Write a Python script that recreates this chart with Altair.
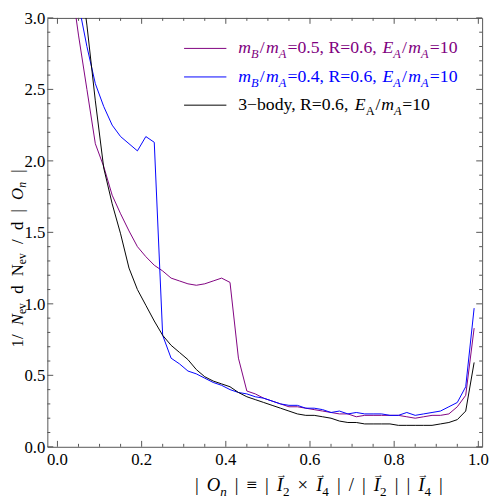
import altair as alt
import pandas as pd

# ---------------- data ----------------
bin_centers = [0.01, 0.03, 0.05, 0.07, 0.09, 0.11, 0.13, 0.15, 0.17, 0.19,
               0.21, 0.23, 0.25, 0.27, 0.29, 0.31, 0.33, 0.35, 0.37, 0.39,
               0.41, 0.43, 0.45, 0.47, 0.49, 0.51, 0.53, 0.55, 0.57, 0.59,
               0.61, 0.63, 0.65, 0.67, 0.69, 0.71, 0.73, 0.75, 0.77, 0.79,
               0.81, 0.83, 0.85, 0.87, 0.89, 0.91, 0.93, 0.95, 0.97, 0.99]

purple_vals = [4.30, 3.30, 2.88, 2.50, 2.12, 1.96, 1.76, 1.63, 1.51, 1.40,
               1.33, 1.27, 1.23, 1.18, 1.16, 1.14, 1.13, 1.14, 1.16, 1.18,
               1.15, 0.62, 0.39, 0.37, 0.34, 0.32, 0.30, 0.28, 0.28, 0.27,
               0.26, 0.25, 0.24, 0.23, 0.23, 0.21, 0.22, 0.22, 0.22, 0.22,
               0.22, 0.21, 0.20, 0.21, 0.22, 0.22, 0.23, 0.28, 0.36, 0.83]

blue_vals = [4.60, 3.60, 3.10, 2.80, 2.54, 2.38, 2.25, 2.17, 2.12, 2.07,
             2.17, 2.13, 0.78, 0.62, 0.58, 0.53, 0.51, 0.48, 0.45, 0.43,
             0.40, 0.38, 0.37, 0.35, 0.34, 0.32, 0.30, 0.29, 0.29, 0.27,
             0.27, 0.26, 0.24, 0.25, 0.23, 0.24, 0.23, 0.23, 0.23, 0.22,
             0.22, 0.24, 0.22, 0.23, 0.24, 0.25, 0.28, 0.31, 0.42, 0.97]

black_vals = [5.00, 4.00, 3.40, 2.95, 2.42, 1.95, 1.70, 1.49, 1.25, 1.10,
              0.99, 0.88, 0.78, 0.71, 0.66, 0.61, 0.54, 0.49, 0.46, 0.44,
              0.42, 0.38, 0.35, 0.33, 0.31, 0.29, 0.27, 0.25, 0.23, 0.22,
              0.22, 0.21, 0.20, 0.18, 0.17, 0.17, 0.16, 0.16, 0.16, 0.16,
              0.15, 0.15, 0.15, 0.15, 0.15, 0.16, 0.17, 0.19, 0.25, 0.59]

x_major = [0.0, 0.2, 0.4, 0.6, 0.8, 1.0]
x_major_labels = ["0.0", "0.2", "0.4", "0.6", "0.8", "1.0"]
x_minor = [0.05, 0.1, 0.15, 0.25, 0.3, 0.35, 0.45, 0.5, 0.55,
           0.65, 0.7, 0.75, 0.85, 0.9, 0.95]
y_major = [0.0, 0.5, 1.0, 1.5, 2.0, 2.5, 3.0]
y_major_labels = ["0.0", "0.5", "1.0", "1.5", "2.0", "2.5", "3.0"]
y_minor = [0.1, 0.2, 0.3, 0.4, 0.6, 0.7, 0.8, 0.9, 1.1, 1.2, 1.3, 1.4,
           1.6, 1.7, 1.8, 1.9, 2.1, 2.2, 2.3, 2.4, 2.6, 2.7, 2.8, 2.9]

legend_labels = ["0.5", "0.4"]

# ---------------- styling ----------------
TOP = 6
W, H = 442, 436
X_DOMAIN = [-0.024, 1.009]
Y_DOMAIN = [0.0, 3.0]
PURPLE = "#800080"
BLUE = "#0000ff"
BLACK = "#000000"
FRAME = "#555555"
FONT = "Liberation Serif"

xs = alt.Scale(domain=X_DOMAIN, nice=False, zero=False)
ys = alt.Scale(domain=Y_DOMAIN, nice=False, zero=False)


def series_layer(vals, color):
    d = pd.DataFrame({"x": bin_centers, "y": vals})
    return alt.Chart(d).mark_line(color=color, strokeWidth=1, clip=True).encode(
        x=alt.X("x:Q", scale=xs, axis=None),
        y=alt.Y("y:Q", scale=ys, axis=None),
    )


def xtick_layer(vals, L, top):
    d = pd.DataFrame({"x": vals})
    return alt.Chart(d).mark_rule(color=FRAME, strokeWidth=1).encode(
        x=alt.X("x:Q", scale=xs, axis=None),
        y=alt.value(0 if top else H),
        y2=alt.value(L if top else H - L),
    )


def ytick_layer(vals, L, right):
    d = pd.DataFrame({"y": vals})
    return alt.Chart(d).mark_rule(color=FRAME, strokeWidth=1).encode(
        y=alt.Y("y:Q", scale=ys, axis=None),
        x=alt.value(W if right else 0),
        x2=alt.value(W - L if right else L),
    )


x_lab = alt.Chart(pd.DataFrame({"x": x_major, "lab": x_major_labels})).mark_text(
    font=FONT, fontSize=17, align="center", baseline="alphabetic", color="black"
).encode(x=alt.X("x:Q", scale=xs, axis=None), y=alt.value(H + 18), text="lab:N")

y_lab = alt.Chart(pd.DataFrame({"y": y_major, "lab": y_major_labels})).mark_text(
    font=FONT, fontSize=17, align="right", baseline="alphabetic", color="black", dy=6
).encode(y=alt.Y("y:Q", scale=ys, axis=None), x=alt.value(-2), text="lab:N")

# ---------------- rich text (math-like labels) ----------------
REG = {"0": 500, "1": 500, "2": 500, "3": 500, "4": 500, "5": 500, "6": 500,
       ".": 250, ",": 250, " ": 250, "=": 564, "/": 278, "|": 200, "\u2261": 549,
       "\u00d7": 564, "\u2212": 564, "R": 667, "N": 722, "b": 500, "o": 500,
       "d": 500, "y": 500, "e": 444, "v": 500, "A": 722}
ITA = {"m": 722, "B": 611, "A": 611, "E": 611, "N": 667, "O": 722, "n": 500,
       "I": 333, "e": 444, "v": 444}


def seg_w(text, italic, size):
    tab = ITA if italic else REG
    return sum(tab.get(c, 500) for c in text) * size / 1000.0


def build(segs, size, start, end, base, color, rotated=False, sub_shift=0.28):
    """Lay out styled segments; the spare room is shared by the gaps that are
    not in front of a subscript, so the run spans start..end."""
    rows, arrows = [], []
    widths = []
    for t, st in segs:
        sub = st.startswith("s")
        sz = size * 0.7 if sub else size
        widths.append(seg_w(t, st in ("i", "si", "ia"), sz))
    total = sum(widths)
    ngaps = sum(1 for i, (t, st) in enumerate(segs) if i > 0 and not st.startswith("s"))
    gap = max((abs(end - start) - total) / ngaps, 0.0) if ngaps else 0.0
    pos = 0.0
    for i, ((t, st), w) in enumerate(zip(segs, widths)):
        sub = st.startswith("s")
        if i > 0 and not sub:
            pos += gap
        sz = size * 0.7 if sub else size
        it = st in ("i", "si", "ia")
        shift = sub_shift * size if sub else 0.0
        if rotated:
            px, py, ang = base + shift, start - pos, 270
        else:
            px, py, ang = start + pos, base + shift, 0
        rows.append({"px": px, "py": py, "text": t, "size": sz, "angle": ang,
                     "color": color, "italic": it})
        if st == "ia":
            arrows.append({"px": px + w / 2 + 1.5, "py": py - 0.70 * size,
                           "text": "\u2192", "size": size * 0.6, "angle": 0,
                           "color": color, "italic": False})
        pos += w
    return rows, arrows


def lx(px):
    return px - 48


def ly(py):
    return py - 8 - TOP


LS = 18
leg1 = [("m", "i"), ("B", "si"), ("/", "n"), ("m", "i"), ("A", "si"),
        ("=" + legend_labels[0] + ", R=0.6, ", "n"), ("E", "i"), ("A", "si"),
        ("/", "n"), ("m", "i"), ("A", "si"), ("=10", "n")]
leg2 = [("m", "i"), ("B", "si"), ("/", "n"), ("m", "i"), ("A", "si"),
        ("=" + legend_labels[1] + ", R=0.6, ", "n"), ("E", "i"), ("A", "si"),
        ("/", "n"), ("m", "i"), ("A", "si"), ("=10", "n")]
leg3 = [("3\u2212body, R=0.6, ", "n"), ("E", "i"), ("A", "sn"), ("/", "n"),
        ("m", "i"), ("A", "si"), ("=10", "n")]
xtitle = [("|", "n"), ("O", "i"), ("n", "si"), ("|", "n"), ("\u2261", "n"), ("|", "n"),
          ("I", "ia"), ("2", "sn"), ("\u00d7", "n"), ("I", "ia"), ("4", "sn"), ("|", "n"),
          ("/", "n"), ("|", "n"), ("I", "ia"), ("2", "sn"), ("|", "n"), ("|", "n"),
          ("I", "ia"), ("4", "sn"), ("|", "n")]
ytitle = [("1/", "n"), ("N", "i"), ("ev", "sn"), ("d", "n"), ("N", "n"),
          ("ev", "sn"), ("/", "n"), ("d", "n"), ("|", "n"), ("O", "i"), ("n", "si"),
          ("|", "n")]

text_rows, arrow_rows = [], []
for segs, base, end, col in [(leg1, 50, 465, PURPLE),
                             (leg2, 79, 465, BLUE),
                             (leg3, 107.5, 437, BLACK)]:
    r, a = build(segs, LS, lx(242), lx(end), ly(base), col)
    text_rows += r
    arrow_rows += a
r, a = build(xtitle, 19, lx(198), lx(450), ly(495), BLACK)
text_rows += r
arrow_rows += a
r, a = build(ytitle, 17, ly(349), ly(168), lx(23), BLACK, rotated=True, sub_shift=0.18)
text_rows += r
arrow_rows += a

tdf = pd.DataFrame(text_rows)
adf = pd.DataFrame(arrow_rows)


def text_layer(df, style, align="left"):
    return alt.Chart(df).mark_text(align=align, baseline="alphabetic", font=FONT,
                                   fontStyle=style).encode(
        x=alt.X("px:Q", scale=None, axis=None),
        y=alt.Y("py:Q", scale=None, axis=None),
        text="text:N",
        size=alt.Size("size:Q", scale=None, legend=None),
        angle=alt.Angle("angle:Q", scale=None),
        color=alt.Color("color:N", scale=None, legend=None),
    )


leg_lines = pd.DataFrame({"x0": [lx(187)] * 3, "x1": [lx(230)] * 3,
                          "yy": [ly(45), ly(74), ly(102.7)],
                          "color": [PURPLE, BLUE, BLACK]})
leg_rule = alt.Chart(leg_lines).mark_rule(strokeWidth=1).encode(
    x=alt.X("x0:Q", scale=None, axis=None),
    x2="x1:Q",
    y=alt.Y("yy:Q", scale=None, axis=None),
    color=alt.Color("color:N", scale=None, legend=None),
)

chart = alt.layer(
    xtick_layer(x_major, 6, False), xtick_layer(x_minor, 3, False),
    xtick_layer(x_major, 6, True), xtick_layer(x_minor, 3, True),
    ytick_layer(y_major, 6, False), ytick_layer(y_minor, 3, False),
    ytick_layer(y_major, 6, True), ytick_layer(y_minor, 3, True),
    series_layer(purple_vals, PURPLE),
    series_layer(blue_vals, BLUE),
    series_layer(black_vals, BLACK),
    x_lab, y_lab,
    leg_rule,
    text_layer(tdf[~tdf["italic"]], "normal"),
    text_layer(tdf[tdf["italic"]], "italic"),
    text_layer(adf, "normal", align="center"),
).properties(
    width=W, height=H,
    autosize=alt.AutoSizeParams(type="none"),
    padding={"left": 40, "top": TOP, "right": 8, "bottom": 50},
).configure_view(
    stroke=FRAME, strokeWidth=1
)

chart.save("out.html", embed_options={"renderer": "svg", "actions": False})
